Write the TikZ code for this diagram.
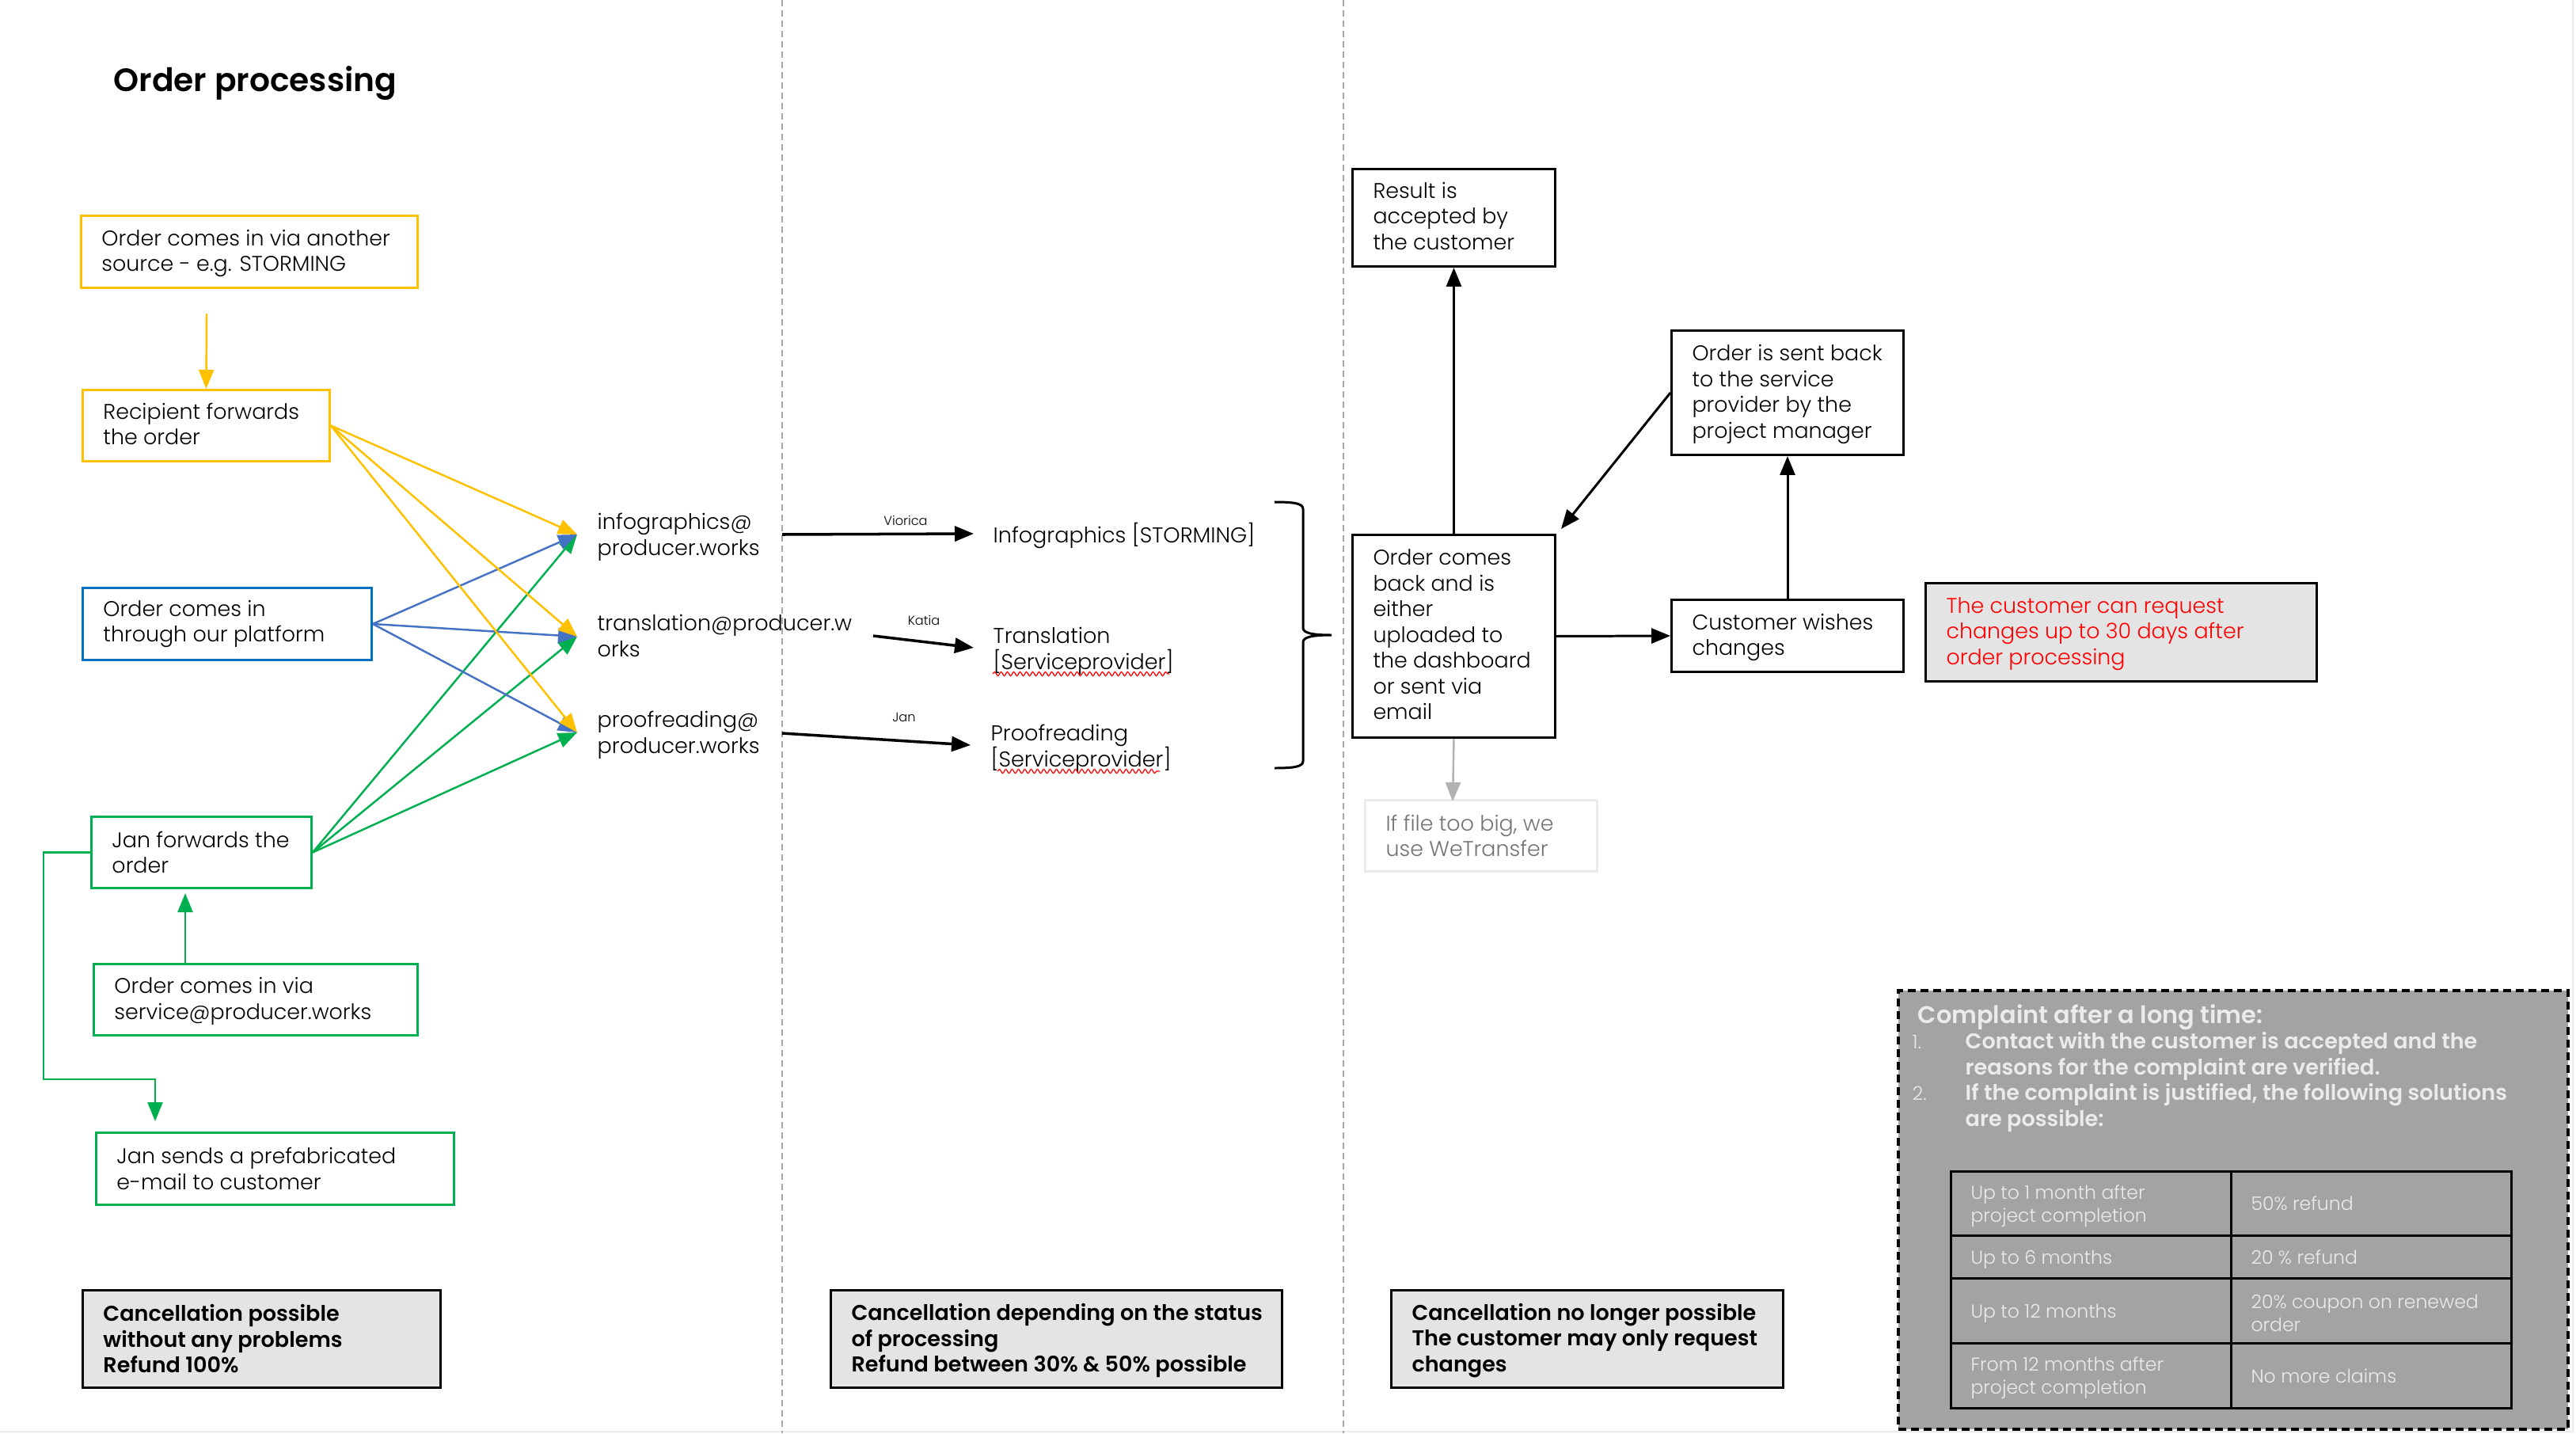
\documentclass[tikz,border=0pt]{standalone}
\usepackage{fontspec}
\setmainfont{Poppins Light}[BoldFont={Poppins SemiBold}]
\usetikzlibrary{arrows.meta,decorations.pathmorphing}
\definecolor{orderyellow}{HTML}{FFC000}
\definecolor{orderblue}{HTML}{0070C0}
\definecolor{arrowblue}{HTML}{4472C4}
\definecolor{ordergreen}{HTML}{00B050}
\definecolor{notegray}{HTML}{E4E4E4}
\definecolor{panelgray}{HTML}{A3A3A3}
\tikzset{
  bodyfont/.style={font=\fontsize{7.65}{9.25}\selectfont},
  box/.style 2 args={draw, line width=0.85pt, anchor=north west, align=flush left, inner xsep=0.26cm, inner ysep=0pt,
    text width=#1cm-0.52cm, minimum height=#2cm, bodyfont, xshift=-0.02cm,
    execute at begin node={\rightskip=-0.3cm plus 1fil},
    execute at end node={\par\vspace*{-0.04cm}}},
  lift/.style={execute at end node={\par\vspace*{#1cm}}},
  label text/.style={anchor=west, align=left, inner sep=0pt, font=\fontsize{7.7}{9.35}\selectfont},
  name tag/.style={inner sep=0pt, font=\fontsize{4.6}{5}\selectfont},
  cell/.style 2 args={draw, line width=0.85pt, anchor=north west, align=flush left, inner xsep=0.25cm, inner ysep=0pt,
    text width=#1cm-0.5cm, minimum height=#2cm, text=white!92!black, font=\fontsize{6.7}{8.2}\selectfont, xshift=-0.02cm,
    execute at end node={\par\vspace*{-0.06cm}}},
  to/.style={-{Triangle[length=0.24cm,width=0.19cm]}, line width=0.7pt},
  column line/.style={draw=black!35, line width=0.7pt, dash pattern=on 0.08cm off 0.05cm},
}
\begin{document}
\begin{tikzpicture}
\useasboundingbox (0,0) rectangle (32.54,-18.10);
% Slide edge and the column separators
\draw[black!8, line width=0.6pt] (0,-18.08) -- (32.50,-18.08) -- (32.50,0);
\draw[column line] (9.88,0) -- (9.88,-18.10);
\draw[column line] (16.97,0) -- (16.97,-18.10);
% Title
\node[anchor=west, inner sep=0pt, font=\fontsize{11.6}{14}\bfseries] (title) at (1.43,-1.05) {Order processing};
% First column, order sources
\node[box={4.25}{0.91}, draw=orderyellow] (another) at (1.03,-2.71) {Order comes in via another\\source - e.g. STORMING};
\node[box={3.12}{0.90}, draw=orderyellow, lift=0.08] (recipient) at (1.05,-4.91) {Recipient forwards\\the order};
\node[box={3.65}{0.91}, draw=orderblue, lift=0.04] (platform) at (1.05,-7.41) {Order comes in\\through our platform};
\node[box={2.78}{0.90}, draw=ordergreen, lift=0.04] (janforwards) at (1.16,-10.30) {Jan forwards the\\order};
\node[box={4.09}{0.90}, draw=ordergreen] (service) at (1.19,-12.16) {Order comes in via\\service@producer.works};
\node[box={4.52}{0.91}, draw=ordergreen, lift=0.04] (jansends) at (1.22,-14.29) {Jan sends a prefabricated\\e-mail to customer};
% Mail addresses
\node[label text] (infomail) at (7.54,-6.78) {infographics@\\producer.works};
\node[label text] (transmail) at (7.54,-8.03) {translation@producer.w\\orks};
\node[label text] (proofmail) at (7.54,-9.28) {proofreading@\\producer.works};
\coordinate (infoin) at (7.29,-6.75);
\coordinate (transin) at (7.29,-8.04);
\coordinate (proofin) at (7.29,-9.25);
% Arrows into the mail addresses
\coordinate (anotherout) at (2.61,-3.96);
\draw[to, orderyellow] (anotherout) -- (recipient.north);
\foreach \target in {proofin,transin,infoin} {
  \draw[to, ordergreen] (janforwards.east) -- (\target);
}
\foreach \target in {infoin,transin,proofin} {
  \draw[to, arrowblue] (platform.east) -- (\target);
}
\foreach \target in {infoin,transin,proofin} {
  \draw[to, orderyellow] (recipient.east) -- (\target);
}
% Green arrows on the left
\coordinate (janin) at (2.34,-11.28);
\draw[to, ordergreen] (service.north -| janin) -- (janin);
\coordinate (elbow) at (0.55,-13.63);
\coordinate (sendin) at (1.96,-14.16);
\draw[to, ordergreen] (janforwards.west) -| (elbow) -| (sendin);
% Second column
\node[name tag] (viorica) at (11.44,-6.57) {Viorica};
\node[name tag] (katia) at (11.67,-7.83) {Katia};
\node[name tag] (jan) at (11.42,-9.06) {Jan};
\node[label text] (infotask) at (12.54,-6.76) {Infographics [STORMING]};
\node[label text] (transtask) at (12.54,-8.22) {Translation\\{[Serviceprovider]}};
\node[label text] (prooftask) at (12.51,-9.45) {Proofreading\\{[Serviceprovider]}};
\coordinate (infoout) at (9.88,-6.75);
\coordinate (transout) at (11.03,-8.03);
\coordinate (proofout) at (9.88,-9.26);
\coordinate (infotip) at (12.30,-6.74);
\coordinate (transtip) at (12.30,-8.18);
\coordinate (prooftip) at (12.26,-9.41);
\draw[to, black, line width=1pt] (infoout) -- (infotip);
\draw[to, black, line width=1pt] (transout) -- (transtip);
\draw[to, black, line width=1pt] (proofout) -- (prooftip);
% Red wavy underlines
\draw[red, line width=0.35pt, decorate, decoration={snake, amplitude=0.025cm, segment length=0.08cm}] (12.54,-8.51) -- (14.77,-8.51);
\draw[red, line width=0.35pt, decorate, decoration={snake, amplitude=0.025cm, segment length=0.08cm}] (12.60,-9.74) -- (14.65,-9.74);
% Brace
\draw[line width=0.85pt] (16.10,-6.34) .. controls (16.36,-6.34) and (16.46,-6.36) .. (16.46,-6.43)
  -- (16.46,-7.93) .. controls (16.46,-7.99) and (16.56,-8.02) .. (16.82,-8.02)
  .. controls (16.56,-8.02) and (16.46,-8.05) .. (16.46,-8.11)
  -- (16.46,-9.61) .. controls (16.46,-9.68) and (16.36,-9.70) .. (16.10,-9.70);
% Third column
\node[box={2.56}{1.23}, lift=0.08] (accepted) at (17.09,-2.12) {Result is\\accepted by\\the customer};
\node[box={2.56}{2.56}, lift=0.08] (back) at (17.09,-6.74) {Order comes\\back and is\\either\\uploaded to\\the dashboard\\or sent via\\email};
\node[box={2.93}{1.57}] (sentback) at (21.12,-4.16) {Order is sent back\\to the service\\provider by the\\project manager};
\node[box={2.93}{0.91}] (wishes) at (21.12,-7.56) {Customer wishes\\changes};
\node[box={4.94}{1.24}, fill=notegray, text=red] (request) at (24.33,-7.35) {The customer can request\\changes up to 30 days after\\order processing};
\node[box={2.93}{0.90}, draw=black!8, text=black!55, lift=0.04] (transfer) at (17.25,-10.09) {If file too big, we\\use WeTransfer};
\coordinate (backcorner) at (19.72,-6.68);
\coordinate (transfertip) at (18.35,-10.12);
\draw[to, line width=0.85pt] (back.north) -- (accepted.south);
\draw[to, line width=0.85pt] (sentback.west) -- (backcorner);
\draw[to, line width=0.85pt] (back.east) -- (wishes.west);
\draw[to, line width=0.85pt] (wishes.north) -- (sentback.south);
\draw[to, black!30] (back.south) -- (transfertip);
% Cancellation notes along the bottom
\node[box={4.52}{1.23}, fill=notegray, font=\fontsize{7.7}{9.25}\bfseries, lift=0.04] (notefirst) at (1.05,-16.28) {Cancellation possible\\without any problems\\Refund 100\%};
\node[box={5.70}{1.23}, fill=notegray, font=\fontsize{7.7}{9.25}\bfseries] (notesecond) at (10.50,-16.28) {Cancellation depending on the status\\of processing\\Refund between 30\% \& 50\% possible};
\node[box={4.95}{1.23}, fill=notegray, font=\fontsize{7.7}{9.25}\bfseries] (notethird) at (17.58,-16.28) {Cancellation no longer possible\\The customer may only request\\changes};
% Complaint panel
\node[draw, fill=panelgray, line width=1.1pt, dash pattern=on 0.10cm off 0.06cm, anchor=north west, minimum width=8.46cm, minimum height=5.54cm, inner sep=0pt] (panel) at (23.96,-12.49) {};
\node[anchor=west, inner sep=0pt, text=white!92!black, font=\fontsize{8.65}{10}\bfseries] (paneltitle) at (24.22,-12.85) {Complaint after a long time:};
\node[anchor=west, inner sep=0pt, text=white!92!black, font=\fontsize{6.8}{8}\selectfont] (numone) at (24.15,-13.16) {1.};
\node[anchor=west, inner sep=0pt, text=white!92!black, font=\fontsize{6.8}{8}\selectfont] (numtwo) at (24.15,-13.81) {2.};
\node[anchor=north west, inner sep=0pt, align=left, text=white!92!black, font=\fontsize{7.7}{9.25}\bfseries] (stepone) at (24.82,-13.03) {Contact with the customer is accepted and the\\reasons for the complaint are verified.};
\node[anchor=north west, inner sep=0pt, align=left, text=white!92!black, font=\fontsize{7.7}{9.25}\bfseries] (steptwo) at (24.82,-13.68) {If the complaint is justified, the following solutions\\are possible:};
% Refund table
\node[cell={3.54}{0.81}] (rowonea) at (24.65,-14.78) {Up to 1 month after\\project completion};
\node[cell={3.54}{0.81}] (rowoneb) at (28.19,-14.78) {50\% refund};
\node[cell={3.54}{0.54}] (rowtwoa) at (24.65,-15.59) {Up to 6 months};
\node[cell={3.54}{0.54}] (rowtwob) at (28.19,-15.59) {20 \% refund};
\node[cell={3.54}{0.82}] (rowthreea) at (24.65,-16.13) {Up to 12 months};
\node[cell={3.54}{0.82}] (rowthreeb) at (28.19,-16.13) {20\% coupon on renewed\\order};
\node[cell={3.54}{0.82}] (rowfoura) at (24.65,-16.95) {From 12 months after\\project completion};
\node[cell={3.54}{0.82}] (rowfourb) at (28.19,-16.95) {No more claims};
\end{tikzpicture}
\end{document}
